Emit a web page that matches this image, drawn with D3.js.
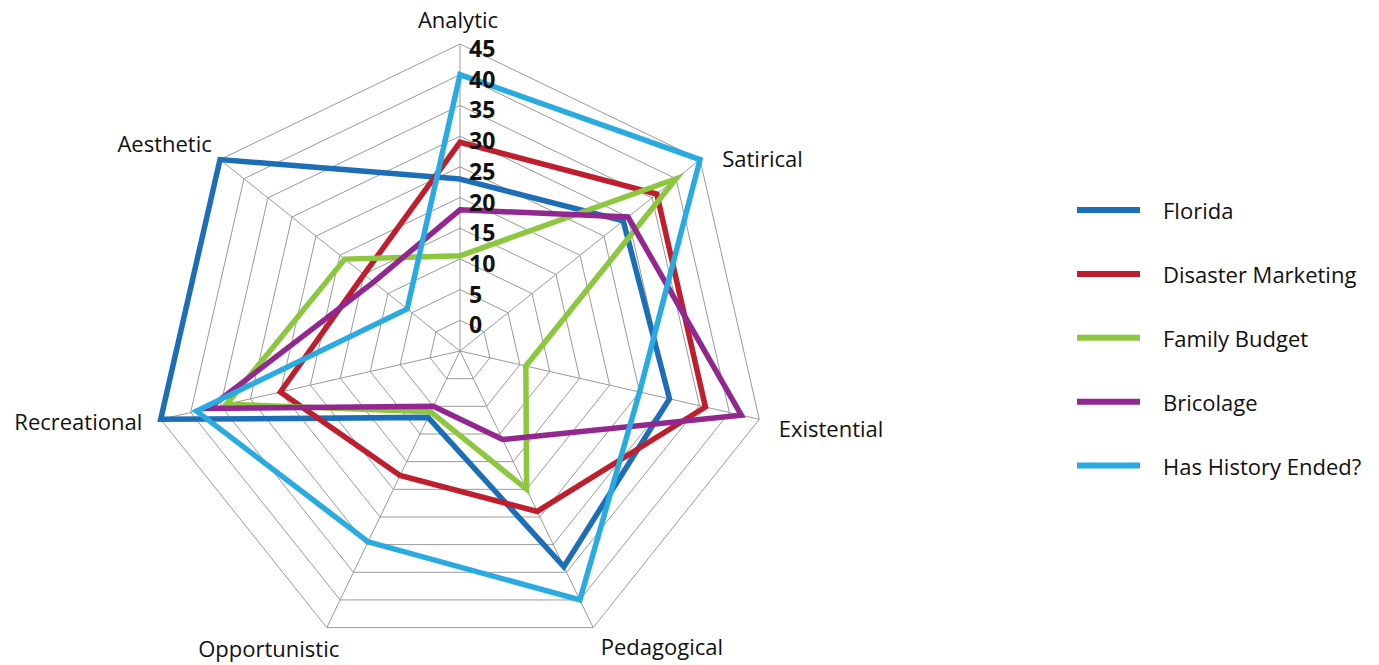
<!DOCTYPE html>
<html>
<head>
<meta charset="utf-8">
<script src="https://cdn.jsdelivr.net/npm/d3@7"></script>
<style>
  body { margin: 0; background: #fff; }
  svg { display: block; font-family: "Open Sans", sans-serif; }
</style>
</head>
<body>
<div id="radar"></div>
<script>
// axes, clockwise from the top
var axes = ["Analytic", "Satirical", "Existential", "Pedagogical", "Opportunistic", "Recreational", "Aesthetic"];

var seriesNames = ["Florida", "Disaster Marketing", "Family Budget", "Bricolage", "Has History Ended?"];

var florida           = [23,   29, 30, 34,  7,    45, 45];
var disasterMarketing = [29,   36, 36, 24,  17.5, 25, 15];
var familyBudget      = [10.5, 40,  6, 20,  6,    34, 19];
var bricolage         = [18,   30, 42, 11,  5,    37, 13];
var hasHistoryEnded   = [40,   45, 25, 40,  29.5, 39,  6];

var tickValues = [0, 5, 10, 15, 20, 25, 30, 35, 40, 45];

var colors = ["#1c6fb6", "#be1e2d", "#8dc63f", "#92278f", "#29abe2"];

var allSeries = [florida, disasterMarketing, familyBudget, bricolage, hasHistoryEnded];

var width = 1379, height = 665;
var cx = 460, cy = 351, R = 307;

var svg = d3.select("#radar")
  .append("svg")
    .attr("width", width)
    .attr("height", height);

var g = svg.append("g")
    .attr("transform", "translate(" + cx + "," + cy + ")");

// radius scale (excel-style: the 0 ring sits a bit off centre)
var r = d3.scaleLinear()
    .domain([-5, 45])
    .range([0, R]);

var angle = d3.scalePoint()
    .domain(axes)
    .range([0, 2 * Math.PI * (axes.length - 1) / axes.length]);

function px(a, v) { return r(v) * Math.sin(angle(a)); }
function py(a, v) { return -r(v) * Math.cos(angle(a)); }

// grid rings
g.selectAll(".ring")
  .data(tickValues)
  .enter().append("polygon")
    .attr("class", "ring")
    .attr("points", function(t) {
      return axes.map(function(a) { return px(a, t) + "," + py(a, t); }).join(" ");
    })
    .attr("fill", "none")
    .attr("stroke", "#9a9a9a")
    .attr("stroke-width", 1);

// spokes
g.selectAll(".spoke")
  .data(axes)
  .enter().append("line")
    .attr("class", "spoke")
    .attr("x1", 0).attr("y1", 0)
    .attr("x2", function(a) { return px(a, 45); })
    .attr("y2", function(a) { return py(a, 45); })
    .attr("stroke", "#9a9a9a")
    .attr("stroke-width", 1);

// series
var line = d3.lineRadial()
    .angle(function(d, i) { return angle(axes[i]); })
    .radius(function(d) { return r(d); })
    .curve(d3.curveLinearClosed);

g.selectAll(".series")
  .data(allSeries)
  .enter().append("path")
    .attr("class", "series")
    .attr("d", line)
    .attr("fill", "none")
    .attr("stroke", function(d, i) { return colors[i]; })
    .attr("stroke-width", 5.5)
    .attr("stroke-linejoin", "miter");

// tick labels along the top axis
g.selectAll(".tick")
  .data(tickValues)
  .enter().append("text")
    .attr("class", "tick")
    .attr("x", 9)
    .attr("y", function(t) { return -r(t) + 4; })
    .attr("dominant-baseline", "central")
    .attr("font-size", 23)
    .attr("font-weight", "bold")
    .attr("fill", "#111")
    .text(function(t) { return t; });

// axis labels
var nudge = {
  "Analytic": [-2, -3], "Satirical": [5, 12], "Existential": [-2, 4], "Pedagogical": [-2, -1],
  "Opportunistic": [22, 1], "Recreational": [3, -3], "Aesthetic": [9, -3]
};

g.selectAll(".axis-label")
  .data(axes)
  .enter().append("text")
    .attr("class", "axis-label")
    .attr("x", function(a) { return (R + 22) * Math.sin(angle(a)) + nudge[a][0]; })
    .attr("y", function(a) { return -(R + 22) * Math.cos(angle(a)) + nudge[a][1]; })
    .attr("dominant-baseline", "central")
    .attr("text-anchor", function(a) {
      var s = Math.sin(angle(a));
      return s > 0.1 ? "start" : (s < -0.1 ? "end" : "middle");
    })
    .attr("font-size", 22)
    .attr("fill", "#111")
    .text(function(a) { return a; });

// legend
var legend = svg.append("g")
    .attr("transform", "translate(1077,210)");

var item = legend.selectAll(".item")
  .data(seriesNames)
  .enter().append("g")
    .attr("class", "item")
    .attr("transform", function(d, i) { return "translate(0," + (i * 63.9) + ")"; });

item.append("line")
    .attr("x1", 0).attr("x2", 63)
    .attr("y1", 0).attr("y2", 0)
    .attr("stroke", function(d, i) { return colors[i]; })
    .attr("stroke-width", 6);

item.append("text")
    .attr("x", 86)
    .attr("y", 0)
    .attr("dominant-baseline", "central")
    .attr("font-size", 22)
    .attr("fill", "#111")
    .text(function(d) { return d; });
</script>
</body>
</html>
